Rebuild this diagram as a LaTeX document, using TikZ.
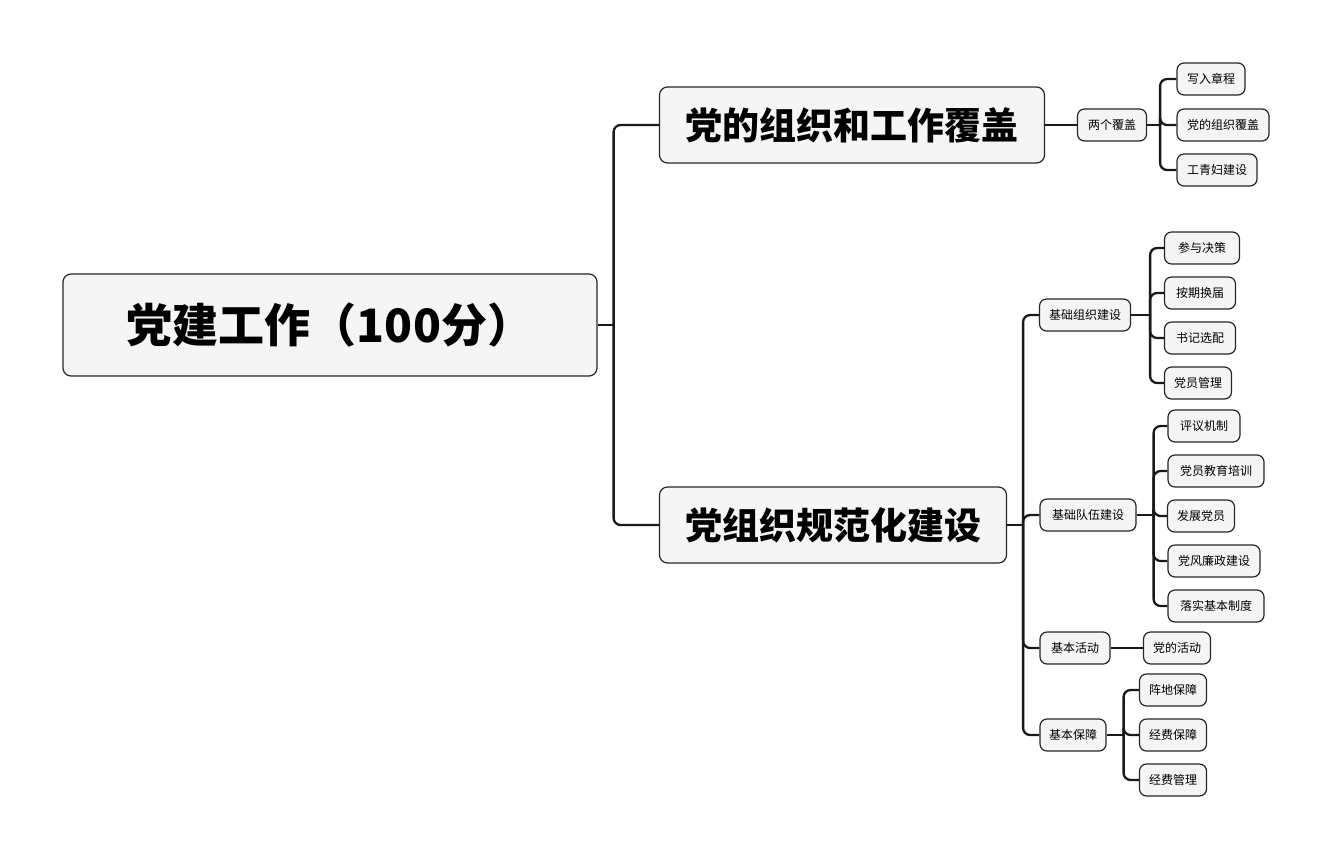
\documentclass[tikz,border=0pt]{standalone}
\usepackage{fontspec}
\setmainfont{Noto Sans CJK SC}
\usetikzlibrary{positioning}
\tikzset{
	box/.style={draw=black!85,line width=1.2pt,fill=black!4,rounded corners=7pt,inner sep=0pt,minimum height=32pt,font=\fontsize{12}{14}\selectfont},
	bigbox/.style={box,rounded corners=8pt,minimum height=76pt,font=\fontsize{37}{44}\selectfont\bfseries},
	rootbox/.style={box,rounded corners=8pt,minimum height=102pt,font=\fontsize{46}{54}\selectfont\bfseries},
	link/.style={draw=black!90,line width=2.3pt,rounded corners=7pt}
}

\begin{document}
\begin{tikzpicture}[x=1pt,y=-1pt]
%Mind map of party building work
	\newcommand\stub{16} %short stub before each branch line
	\useasboundingbox (0,0) rectangle (1332,860);
	\node[rootbox,minimum width=534pt] (root) at (330,325) {党建工作（100分）};
	\node[bigbox,minimum width=385pt] (cover) at (852,125) {党的组织和工作覆盖};
	\node[bigbox,minimum width=347pt] (norm) at (833,525) {党组织规范化建设};
	%% first branch
	\node[box,minimum width=69pt] (twocover) at (1112,125) {两个覆盖};
	\node[box,minimum width=68pt] (charter) at (1211,79) {写入章程};
	\node[box,minimum width=92pt] (orgcover) at (1223,125) {党的组织覆盖};
	\node[box,minimum width=80pt] (youth) at (1217,170) {工青妇建设};
	%% second branch
	\node[box,minimum width=91pt] (basicorg) at (1085,315) {基础组织建设};
	\node[box,minimum width=96pt] (basicteam) at (1088,515) {基础队伍建设};
	\node[box,minimum width=70pt] (activity) at (1075,648) {基本活动};
	\node[box,minimum width=66pt] (support) at (1073,735) {基本保障};
	\node[box,minimum width=75pt] (decide) at (1202,248) {参与决策};
	\node[box,minimum width=71pt] (elect) at (1200,293) {按期换届};
	\node[box,minimum width=71pt] (secretary) at (1200,338) {书记选配};
	\node[box,minimum width=67pt] (members) at (1198,383) {党员管理};
	\node[box,minimum width=72pt] (review) at (1204,426) {评议机制};
	\node[box,minimum width=96pt] (training) at (1216,471) {党员教育培训};
	\node[box,minimum width=67pt] (recruit) at (1201,516) {发展党员};
	\node[box,minimum width=92pt] (clean) at (1214,561) {党风廉政建设};
	\node[box,minimum width=96pt] (rules) at (1216,606) {落实基本制度};
	\node[box,minimum width=67pt] (partyact) at (1177,648) {党的活动};
	\node[box,minimum width=67pt] (site) at (1173,690) {阵地保障};
	\node[box,minimum width=67pt] (funds) at (1173,735) {经费保障};
	\node[box,minimum width=67pt] (fundmgmt) at (1173,780) {经费管理};
	% Lines
	\draw[link] (root.east) -- ++(\stub,0) coordinate (rootJ);
	\draw[link] (rootJ) |- (cover.west);
	\draw[link] (rootJ) |- (norm.west);
	\draw[link] (cover.east) -- (twocover.west);
	\draw[link] (twocover.east) -- ++(13,0) coordinate (twoJ); %% twoJ is where the three leaves split
	\foreach \leaf in {charter,orgcover,youth}
		\draw[link] (twoJ) |- (\leaf.west);
	\draw[link] (norm.east) -- ++(\stub,0) coordinate (normJ);
	\foreach \leaf in {basicorg,basicteam,activity,support}
		\draw[link] (normJ) |- (\leaf.west);
	\draw[link] (basicorg.east) -- ++(19,0) coordinate (orgJ);
	\foreach \leaf in {decide,elect,secretary,members}
		\draw[link] (orgJ) |- (\leaf.west);
	\draw[link] (basicteam.east) -- ++(17,0) coordinate (teamJ);
	\foreach \leaf in {review,training,recruit,clean,rules}
		\draw[link] (teamJ) |- (\leaf.west);
	\draw[link] (activity.east) -- (partyact.west);
	\draw[link] (support.east) -- ++(17,0) coordinate (supJ);
	\foreach \leaf in {site,funds,fundmgmt}
		\draw[link] (supJ) |- (\leaf.west);
\end{tikzpicture}
\end{document}
